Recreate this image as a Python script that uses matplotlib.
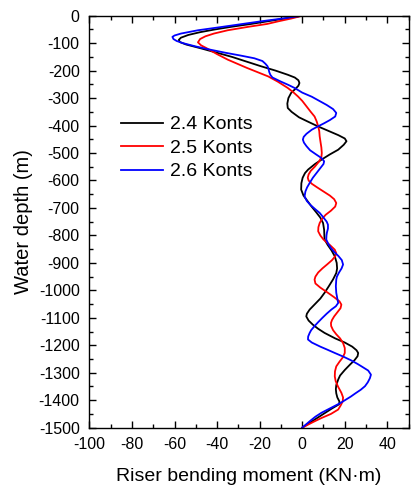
import matplotlib
matplotlib.use("Agg")
import matplotlib.pyplot as plt
from matplotlib.ticker import MultipleLocator

plt.rcParams['font.family'] = ['Liberation Sans', 'DejaVu Sans']
plt.rcParams['axes.unicode_minus'] = False

# Water depth (m) and riser bending moment (KN·m)
depth_24 = [0, -10, -20, -30, -40, -50, -60, -70, -80, -88, -96, -105, -118, -135, -150, -165, -184,
            -200, -215, -225, -235, -245, -255, -265, -281, -300, -320, -336, -350, -370, -385, -403,
            -420, -435, -447, -457, -470, -488, -505, -518, -540, -560, -573, -590, -610, -633, -655,
            -675, -694, -715, -735, -755, -780, -800, -815, -835, -855, -876, -900, -920, -937, -960,
            -985, -1009, -1030, -1050, -1070, -1085, -1095, -1110, -1125, -1140, -1155, -1175, -1190,
            -1205, -1218, -1228, -1240, -1255, -1270, -1290, -1310, -1325, -1345, -1360, -1375, -1390,
            -1405, -1415, -1430, -1450, -1475, -1500]
moment_24 = [0, -8, -16, -24, -33, -41, -48, -53.5, -57, -58, -57.5, -54.5, -48, -40, -33, -27, -19.4,
             -12.5, -6.8, -3.5, -1.8, -1.3, -1.8, -3, -5.2, -6.5, -7, -6.8, -5, -1.5, 2.5, 7.4,
             12.5, 17, 20, 20.8, 19.5, 16.9, 13, 10.3, 6, 2.8, 1.3, 0.2, -0.4, -0.5, 0.6,
             2.5, 4.3, 6.5, 8.5, 9.8, 10.3, 10.4, 10.5, 12, 13.8, 15.3, 16.2, 16.4, 16, 14.5,
             12.5, 10.5, 8.5, 6, 3.5, 2.2, 1.9, 3, 5, 7.5, 10.5, 15.5, 20,
             23.5, 25.5, 26.3, 26, 24.5, 22.5, 20, 17.8, 16.9, 16, 15.8, 16, 16.5,
             17.5, 17.3, 14, 10, 5, 0]

depth_25 = [0, -10, -20, -30, -40, -53, -65, -75, -85, -97, -108, -118, -140, -160, -190, -221, -240,
            -263, -280, -294, -310, -330, -350, -367, -385, -403, -420, -439, -460, -480, -500, -515,
            -530, -549, -565, -578, -590, -600, -612, -625, -640, -655, -668, -682, -695, -710, -725,
            -740, -755, -770, -785, -800, -815, -835, -852, -865, -876, -890, -905, -920, -935, -950,
            -961, -975, -990, -1009, -1025, -1040, -1052, -1065, -1080, -1095, -1108, -1119, -1130,
            -1145, -1160, -1175, -1192, -1210, -1228, -1245, -1260, -1277, -1295, -1313, -1330, -1350,
            -1373, -1390, -1405, -1420, -1434, -1450, -1465, -1480, -1500]
moment_25 = [0, -5, -11, -16.5, -25, -35, -41.5, -45.5, -48, -49, -47.5, -45, -40, -35, -26, -16, -11.5,
             -6.8, -4, -2, 0, 2, 4, 5.8, 6.8, 7.5, 8, 8.2, 8.6, 9, 9.2, 9,
             8, 6, 4, 3, 2.6, 3, 4.5, 7, 10, 13, 15, 16, 15.5, 13.5, 11,
             9.3, 8.2, 7.6, 7.5, 8.5, 10, 13, 15.3, 16, 15.5, 14, 11.8, 9.5, 7.5, 6.2,
             5.8, 6.2, 8.5, 12.1, 15, 17.5, 18.4, 18, 16.5, 15, 14, 13.5, 13.6,
             14.5, 16, 17.8, 19.2, 20, 20, 19, 17.5, 16, 15.4, 15.3, 15.7, 16.8,
             18.4, 19.2, 19, 18, 16.9, 13.5, 9, 5, 0]

depth_26 = [0, -10, -20, -30, -40, -53, -65, -72, -77, -85, -92, -100, -112, -124, -135, -145, -155,
            -165, -175, -184, -195, -205, -215, -225, -240, -252, -263, -280, -295, -310, -325, -340,
            -354, -367, -380, -392, -403, -415, -430, -441, -451, -462, -475, -490, -505, -518, -530,
            -540, -555, -570, -590, -609, -625, -640, -658, -675, -690, -705, -718, -735, -750, -761,
            -775, -790, -800, -815, -830, -845, -860, -875, -890, -906, -920, -935, -950, -961, -985,
            -1009, -1030, -1046, -1058, -1070, -1085, -1100, -1115, -1130, -1145, -1155, -1168, -1179,
            -1190, -1205, -1215, -1228, -1242, -1255, -1268, -1277, -1292, -1307, -1320, -1335, -1349,
            -1362, -1375, -1387, -1398, -1410, -1422, -1434, -1446, -1460, -1475, -1490, -1500]
moment_26 = [0, -9, -19, -28, -37, -49, -57, -60, -61, -60.5, -59, -56, -50, -43, -36, -29, -22.5,
             -18.7, -17.3, -16.3, -15.8, -15.5, -15, -14, -10, -6.5, -3.6, 0, 4.5, 8, 11.5, 14.5,
             16, 15.5, 13, 10.2, 7.4, 4.5, 2, 0.7, 0.3, 0.8, 2, 3.7, 6.5, 9, 10.3,
             10, 8.5, 7, 5, 3.5, 2.3, 1.5, 1.1, 2.2, 4, 6.2, 8.2, 10, 11.5, 12.1,
             12.1, 11.6, 11.4, 11.3, 12.2, 13.4, 15, 17, 18.6, 19.2, 18.5, 17.3, 16.3, 16, 15.8,
             16, 16.5, 16.9, 15.8, 13.7, 11.5, 9.5, 7.6, 5.8, 4.2, 3.5, 2.8, 2.7,
             4.5, 8.5, 11.5, 15.3, 19.5, 23, 26, 27.9, 31, 32.3, 31.8, 30.8, 29.5,
             27.5, 25, 22.8, 20.5, 18, 15, 12, 9, 6.2, 3.8, 1.5, 0]

series = [("2.4 Konts", moment_24, depth_24, "black"),
          ("2.5 Konts", moment_25, depth_25, "red"),
          ("2.6 Konts", moment_26, depth_26, "blue")]

fig = plt.figure(figsize=(4.14, 4.91), dpi=100)
ax = fig.add_axes([0.216, 0.129, 0.771, 0.839])

for label, x, y, c in series:
    ax.plot(x, y, color=c, lw=1.3, label=label, solid_joinstyle='round')

ax.set_xlim(-100, 50)
ax.set_ylim(-1500, 0)
ax.set_xticks([-100, -80, -60, -40, -20, 0, 20, 40])
ax.xaxis.set_minor_locator(MultipleLocator(10))
ax.yaxis.set_major_locator(MultipleLocator(100))
ax.yaxis.set_minor_locator(MultipleLocator(50))
ax.tick_params(which='both', direction='in', top=True, right=True, width=1)
ax.tick_params(which='major', length=5, labelsize=11.5)
ax.tick_params(axis='x', which='major', pad=7)
ax.tick_params(axis='y', which='major', pad=7)
ax.tick_params(which='minor', length=3)
for s in ax.spines.values():
    s.set_linewidth(1.0)

ax.set_xlabel("Riser bending moment (KN·m)", fontsize=14, labelpad=11)
ax.set_ylabel("Water depth (m)", fontsize=14.5, labelpad=4)

ax.legend(loc='upper left', bbox_to_anchor=(0.10, 0.757), frameon=False, fontsize=14,
          handlelength=2.15, handletextpad=0.35, labelspacing=0.3, borderpad=0, borderaxespad=0)

fig.savefig("out.png", dpi=100)
